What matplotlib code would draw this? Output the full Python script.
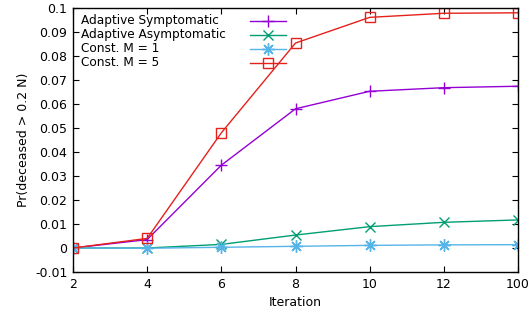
import matplotlib
matplotlib.use("Agg")
import matplotlib.pyplot as plt
from matplotlib.lines import Line2D

# ── Data ─────────────────────────────────────────────────────────────────────
iterations = ["2", "4", "6", "8", "10", "12", "100"]

adaptive_sym = [0.0, 0.0035, 0.0345, 0.0580, 0.0653, 0.0668, 0.0674]
adaptive_asym = [0.0, 0.0, 0.0015, 0.0054, 0.0089, 0.0107, 0.0117]
const_m1 = [0.0, -0.0001, 0.0003, 0.0007, 0.0011, 0.0013, 0.0014]
const_m5 = [0.0, 0.0040, 0.0480, 0.0854, 0.0961, 0.0978, 0.0980]

# ── Plot ─────────────────────────────────────────────────────────────────────
plt.rcParams['font.family'] = ['DejaVu Sans']
fig = plt.figure(figsize=(5.31, 3.2), dpi=100)
ax = fig.add_axes([73/531, 1 - 272/320, (518 - 73)/531, (272 - 8)/320])

x = list(range(len(iterations)))
series = [
    ('Adaptive Symptomatic', adaptive_sym, dict(color='#9400d3', marker='+', ms=9)),
    ('Adaptive Asymptomatic', adaptive_asym, dict(color='#009e73', marker='x', ms=7)),
    ('Const. M = 1', const_m1, dict(color='#56b4e9', marker=(8, 2, 0), ms=9)),
    ('Const. M = 5', const_m5, dict(color='#e5211b', marker='s', ms=7.5, mfc='none')),
]
for label, y, st in series:
    ax.plot(x, y, lw=1.0, mew=1.0, label=label, **st)

ax.set_xlim(0, len(iterations) - 1)
ax.set_ylim(-0.01, 0.1)
ax.set_xticks(x)
ax.set_xticklabels(iterations)
ax.set_yticks([-0.01, 0, 0.01, 0.02, 0.03, 0.04, 0.05, 0.06, 0.07, 0.08, 0.09, 0.1])
ax.set_yticklabels(['-0.01', '0', '0.01', '0.02', '0.03', '0.04', '0.05',
                    '0.06', '0.07', '0.08', '0.09', '0.1'])
ax.tick_params(direction='in', top=True, right=True, labelsize=9, length=4,
               pad=4)
for s in ax.spines.values():
    s.set_linewidth(1.0)

ax.set_xlabel('Iteration', fontsize=9)
ax.set_ylabel('Pr(deceased > 0.2 N)', fontsize=9)

# gnuplot-style key: left-aligned text, sample on the right
row_y = [0.951, 0.899, 0.846, 0.793]
for (label, _, st), ry in zip(series, row_y):
    ax.text(0.018, ry, label, transform=ax.transAxes, fontsize=8.7,
            ha='left', va='center')
    ax.add_line(Line2D([0.398, 0.478], [ry, ry], transform=ax.transAxes,
                       lw=1.0, color=st['color']))
    ax.add_line(Line2D([0.438], [ry], transform=ax.transAxes, lw=0,
                       mew=1.0, **st))

fig.savefig('out.png', dpi=100)
